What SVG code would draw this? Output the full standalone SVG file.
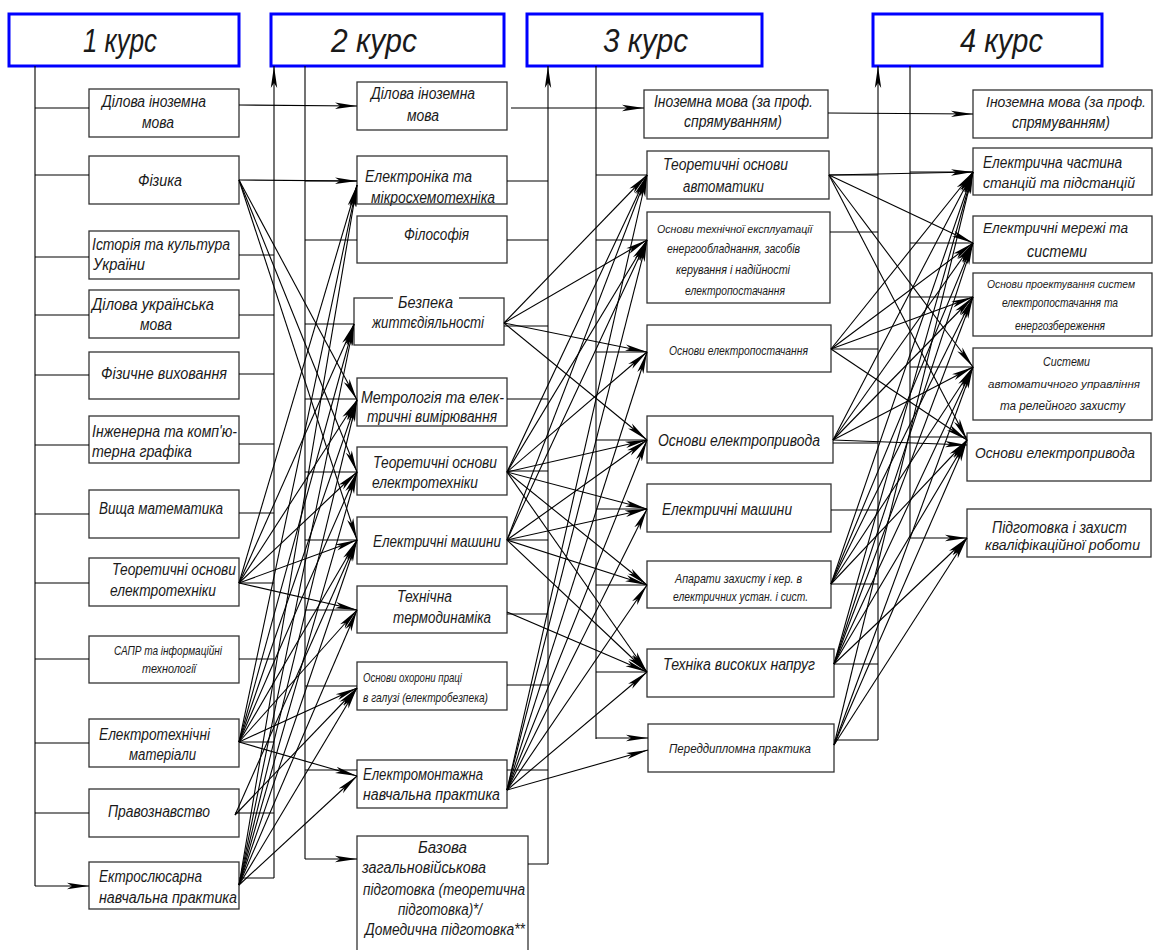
<svg xmlns="http://www.w3.org/2000/svg" width="1154" height="950" viewBox="0 0 1154 950">
<defs>
<style>
.hdr{fill:#fff;stroke:#0000ff;stroke-width:3}
.box{fill:#fff;stroke:#333;stroke-width:1.3}
.ln{fill:none;stroke:#000;stroke-width:1.1}
.ar{fill:none;stroke:#000;stroke-width:1.1;marker-end:url(#ah)}
text{font-family:"Liberation Sans",Arial,sans-serif;font-style:italic;fill:#1a1a1a}
.h{font-size:34px}
.t{font-size:16px}
.s{font-size:13px}
.u{font-size:14px}
.v{font-size:11.5px}
.e{text-anchor:end}
</style>
<marker id="ah" viewBox="0 -4 22 8" refX="22" refY="0" markerWidth="22" markerHeight="8" orient="auto" markerUnits="userSpaceOnUse">
<path d="M0,-3.2 L22,0 L0,3.2 L5,0 z" fill="#000"/>
</marker>
</defs>
<rect width="1154" height="950" fill="#fff"/>

<g id="headers">
<g id="h1"><rect class="hdr" x="9" y="14" width="230" height="52"/><text class="h" x="83" y="52" textLength="74" lengthAdjust="spacingAndGlyphs">1 курс</text></g>
<g id="h2"><rect class="hdr" x="271" y="14" width="233" height="52"/><text class="h" x="331" y="52" textLength="86" lengthAdjust="spacingAndGlyphs">2 курс</text></g>
<g id="h3"><rect class="hdr" x="527" y="14" width="235" height="52"/><text class="h" x="603" y="52" textLength="85" lengthAdjust="spacingAndGlyphs">3 курс</text></g>
<g id="h4"><rect class="hdr" x="873" y="14" width="229" height="52"/><text class="h" x="960" y="52" textLength="83" lengthAdjust="spacingAndGlyphs">4 курс</text></g>
</g>

<g id="col1">
<g id="c1n1"><rect class="box" x="89" y="89" width="150" height="48"/><text class="t" x="102" y="107" textLength="104" lengthAdjust="spacingAndGlyphs">Ділова іноземна</text><text class="t" x="142" y="128" textLength="32" lengthAdjust="spacingAndGlyphs">мова</text></g>
<g id="c1n2"><rect class="box" x="89" y="156" width="150" height="48"/><text class="t" x="138" y="186" textLength="44" lengthAdjust="spacingAndGlyphs">Фізика</text></g>
<g id="c1n3"><rect class="box" x="89" y="231" width="150" height="48"/><text class="t" x="92" y="250" textLength="138" lengthAdjust="spacingAndGlyphs">Історія та культура</text><text class="t" x="93" y="270" textLength="52" lengthAdjust="spacingAndGlyphs">України</text></g>
<g id="c1n4"><rect class="box" x="89" y="290" width="150" height="48"/><text class="t" x="92" y="310" textLength="122" lengthAdjust="spacingAndGlyphs">Ділова українська</text><text class="t" x="140" y="330" textLength="32" lengthAdjust="spacingAndGlyphs">мова</text></g>
<g id="c1n5"><rect class="box" x="89" y="352" width="150" height="47"/><text class="t" x="101" y="379" textLength="126" lengthAdjust="spacingAndGlyphs">Фізичне виховання</text></g>
<g id="c1n6"><rect class="box" x="89" y="416" width="150" height="47"/><text class="t" x="92" y="437" textLength="145" lengthAdjust="spacingAndGlyphs">Інженерна та комп'ю-</text><text class="t" x="92" y="457" textLength="100" lengthAdjust="spacingAndGlyphs">терна графіка</text></g>
<g id="c1n7"><rect class="box" x="89" y="490" width="150" height="48"/><text class="t" x="99" y="514" textLength="124" lengthAdjust="spacingAndGlyphs">Вища математика</text></g>
<g id="c1n8"><rect class="box" x="89" y="558" width="150" height="48"/><text class="t" x="112" y="575" textLength="124" lengthAdjust="spacingAndGlyphs">Теоретичні основи</text><text class="t" x="110" y="596" textLength="106" lengthAdjust="spacingAndGlyphs">електротехніки</text></g>
<g id="c1n9"><rect class="box" x="89" y="636" width="150" height="47"/><text class="s" x="114" y="655" textLength="108" lengthAdjust="spacingAndGlyphs">САПР та інформаційні</text><text class="s" x="142" y="673" textLength="54" lengthAdjust="spacingAndGlyphs">технології</text></g>
<g id="c1n10"><rect class="box" x="89" y="719" width="150" height="48"/><text class="t" x="99" y="740" textLength="111" lengthAdjust="spacingAndGlyphs">Електротехнічні</text><text class="t" x="129" y="760" textLength="67" lengthAdjust="spacingAndGlyphs">матеріали</text></g>
<g id="c1n11"><rect class="box" x="89" y="789" width="150" height="48"/><text class="t" x="108" y="817" textLength="102" lengthAdjust="spacingAndGlyphs">Правознавство</text></g>
<g id="c1n12"><rect class="box" x="89" y="862" width="150" height="47"/><text class="t" x="99" y="882" textLength="103" lengthAdjust="spacingAndGlyphs">Ектрослюсарна</text><text class="t" x="99" y="903" textLength="138" lengthAdjust="spacingAndGlyphs">навчальна практика</text></g>
</g>

<g id="col2">
<g id="c2n1"><rect class="box" x="357" y="82" width="150" height="48"/><text class="t" x="371" y="99" textLength="104" lengthAdjust="spacingAndGlyphs">Ділова іноземна</text><text class="t" x="407" y="121" textLength="32" lengthAdjust="spacingAndGlyphs">мова</text></g>
<g id="c2n2"><rect class="box" x="357" y="156" width="150" height="48"/><text class="t" x="365" y="182" textLength="107" lengthAdjust="spacingAndGlyphs">Електроніка та</text><text class="t" x="371" y="203" textLength="124" lengthAdjust="spacingAndGlyphs">мікросхемотехніка</text></g>
<g id="c2n3"><rect class="box" x="357" y="216" width="150" height="47"/><text class="t" x="404" y="240" textLength="65" lengthAdjust="spacingAndGlyphs">Філософія</text></g>
<g id="c2n4"><rect class="box" x="354" y="298" width="150" height="47"/><rect x="393" y="293" width="66" height="10" fill="#fff"/><text class="t" x="398" y="308" textLength="55" lengthAdjust="spacingAndGlyphs">Безпека</text><text class="t" x="372" y="328" textLength="112" lengthAdjust="spacingAndGlyphs">життєдіяльності</text></g>
<g id="c2n5"><rect class="box" x="357" y="378" width="150" height="48"/><text class="t" x="361" y="403" textLength="143" lengthAdjust="spacingAndGlyphs">Метрологія та елек-</text><text class="t" x="367" y="422" textLength="130" lengthAdjust="spacingAndGlyphs">тричні вимірювання</text></g>
<g id="c2n6"><rect class="box" x="357" y="447" width="150" height="48"/><text class="t" x="373" y="468" textLength="124" lengthAdjust="spacingAndGlyphs">Теоретичні основи</text><text class="t" x="372" y="488" textLength="106" lengthAdjust="spacingAndGlyphs">електротехніки</text></g>
<g id="c2n7"><rect class="box" x="357" y="517" width="150" height="47"/><text class="t" x="373" y="547" textLength="128" lengthAdjust="spacingAndGlyphs">Електричні машини</text></g>
<g id="c2n8"><rect class="box" x="357" y="586" width="150" height="47"/><text class="t" x="397" y="602" textLength="55" lengthAdjust="spacingAndGlyphs">Технічна</text><text class="t" x="393" y="623" textLength="98" lengthAdjust="spacingAndGlyphs">термодинаміка</text></g>
<g id="c2n9"><rect class="box" x="357" y="662" width="150" height="48"/><text class="s" x="363" y="682" textLength="99" lengthAdjust="spacingAndGlyphs">Основи охорони праці</text><text class="s" x="363" y="702" textLength="125" lengthAdjust="spacingAndGlyphs">в галузі (електробезпека)</text></g>
<g id="c2n10"><rect class="box" x="357" y="760" width="150" height="48"/><text class="t" x="363" y="780" textLength="120" lengthAdjust="spacingAndGlyphs">Електромонтажна</text><text class="t" x="363" y="800" textLength="137" lengthAdjust="spacingAndGlyphs">навчальна практика</text></g>
<g id="c2n11"><rect class="box" x="357" y="836" width="171" height="130"/><text class="t" x="418" y="853" textLength="49" lengthAdjust="spacingAndGlyphs">Базова</text><text class="t" x="362" y="873" textLength="124" lengthAdjust="spacingAndGlyphs">загальновійськова</text><text class="t" x="363" y="895" textLength="162" lengthAdjust="spacingAndGlyphs">підготовка (теоретична</text><text class="t" x="398" y="915" textLength="84" lengthAdjust="spacingAndGlyphs">підготовка)*/</text><text class="t" x="365" y="935" textLength="160" lengthAdjust="spacingAndGlyphs">Домедична підготовка**</text></g>
</g>

<g id="col3">
<g id="c3n1"><rect class="box" x="644" y="90" width="184" height="48"/><text class="t" x="654" y="107" textLength="159" lengthAdjust="spacingAndGlyphs">Іноземна мова (за проф.</text><text class="t" x="684" y="127" textLength="98" lengthAdjust="spacingAndGlyphs">спрямуванням)</text></g>
<g id="c3n2"><rect class="box" x="647" y="151" width="182" height="48"/><text class="t" x="663" y="170" textLength="125" lengthAdjust="spacingAndGlyphs">Теоретичні основи</text><text class="t" x="683" y="192" textLength="81" lengthAdjust="spacingAndGlyphs">автоматики</text></g>
<g id="c3n3"><rect class="box" x="647" y="212" width="183" height="91"/><text class="v" x="657" y="233" textLength="155" lengthAdjust="spacingAndGlyphs">Основи технічної експлуатації</text><text class="s" x="667" y="253" textLength="133" lengthAdjust="spacingAndGlyphs">енергообладнання, засобів</text><text class="s" x="676" y="274" textLength="114" lengthAdjust="spacingAndGlyphs">керування і надійності</text><text class="s" x="685" y="295" textLength="100" lengthAdjust="spacingAndGlyphs">електропостачання</text></g>
<g id="c3n4"><rect class="box" x="647" y="325" width="184" height="47"/><text class="s" x="669" y="355" textLength="139" lengthAdjust="spacingAndGlyphs">Основи електропостачання</text></g>
<g id="c3n5"><rect class="box" x="647" y="416" width="186" height="47"/><text class="t" x="658" y="446" textLength="162" lengthAdjust="spacingAndGlyphs">Основи електропривода</text></g>
<g id="c3n6"><rect class="box" x="647" y="484" width="184" height="48"/><text class="t" x="662" y="515" textLength="130" lengthAdjust="spacingAndGlyphs">Електричні машини</text></g>
<g id="c3n7"><rect class="box" x="647" y="561" width="184" height="47"/><text class="s" x="675" y="583" textLength="127" lengthAdjust="spacingAndGlyphs">Апарати захисту і кер. в</text><text class="s" x="673" y="601" textLength="135" lengthAdjust="spacingAndGlyphs">електричних устан. і сист.</text></g>
<g id="c3n8"><rect class="box" x="647" y="649" width="187" height="48"/><text class="t" x="663" y="670" textLength="152" lengthAdjust="spacingAndGlyphs">Техніка високих напруг</text></g>
<g id="c3n9"><rect class="box" x="648" y="724" width="186" height="48"/><text class="s" x="669" y="753" textLength="142" lengthAdjust="spacingAndGlyphs">Переддипломна практика</text></g>
</g>

<g id="col4">
<g id="c4n1"><rect class="box" x="973" y="90" width="179" height="48"/><text class="u e" x="1146" y="107" textLength="160" lengthAdjust="spacingAndGlyphs">Іноземна мова (за проф.</text><text class="t e" x="1110" y="128" textLength="98" lengthAdjust="spacingAndGlyphs">спрямуванням)</text></g>
<g id="c4n2"><rect class="box" x="973" y="148" width="179" height="47"/><text class="t e" x="1122" y="168" textLength="139" lengthAdjust="spacingAndGlyphs">Електрична частина</text><text class="u e" x="1135" y="188" textLength="152" lengthAdjust="spacingAndGlyphs">станцій та підстанцій</text></g>
<g id="c4n3"><rect class="box" x="973" y="216" width="179" height="47"/><text class="u e" x="1128" y="233" textLength="145" lengthAdjust="spacingAndGlyphs">Електричні мережі та</text><text class="t e" x="1087" y="257" textLength="60" lengthAdjust="spacingAndGlyphs">системи</text></g>
<g id="c4n4"><rect class="box" x="973" y="273" width="179" height="63"/><text class="v e" x="1135" y="288" textLength="148" lengthAdjust="spacingAndGlyphs">Основи проектування систем</text><text class="s e" x="1118" y="307" textLength="116" lengthAdjust="spacingAndGlyphs">електропостачання та</text><text class="s e" x="1105" y="330" textLength="90" lengthAdjust="spacingAndGlyphs">енергозбереження</text></g>
<g id="c4n5"><rect class="box" x="973" y="348" width="179" height="72"/><text class="s e" x="1090" y="366" textLength="47" lengthAdjust="spacingAndGlyphs">Системи</text><text class="v e" x="1140" y="388" textLength="152" lengthAdjust="spacingAndGlyphs">автоматичного управління</text><text class="s e" x="1125" y="410" textLength="125" lengthAdjust="spacingAndGlyphs">та релейного захисту</text></g>
<g id="c4n6"><rect class="box" x="967" y="433" width="184" height="48"/><text class="u e" x="1135" y="458" textLength="160" lengthAdjust="spacingAndGlyphs">Основи електропривода</text></g>
<g id="c4n7"><rect class="box" x="967" y="509" width="184" height="48"/><text class="t e" x="1127" y="533" textLength="135" lengthAdjust="spacingAndGlyphs">Підготовка і захист</text><text class="u e" x="1140" y="550" textLength="155" lengthAdjust="spacingAndGlyphs">кваліфікаційної роботи</text></g>
</g>

<g id="connectors">
<path class="ln" d="M35,66 V886 M305,66 V859 M596,66 V739 M910,66 V538"/>
<path class="ar" d="M274,878 V66"/>
<path class="ar" d="M548,864 V66"/>
<path class="ar" d="M878,740 V66"/>
<path class="ln" d="M239,255 H274 M239,315 H274 M239,374 H274 M239,444 H274 M239,513 H274 M239,583 H274 M239,659 H274 M239,742 H274 M235,813 H274 M239,878 H274"/>
<path class="ln" d="M507,181 H548 M507,240 H548 M504,326 H548 M507,399 H548 M507,471 H548 M507,540 H548 M507,614 H548 M507,685 H548 M507,770 H548 M528,864 H548"/>
<path class="ln" d="M829,175 H878 M830,232 H878 M831,349 H878 M833,443 H878 M831,510 H878 M831,584 H878 M834,664 H878 M834,740 H878"/>
<path class="ar" d="M35,108 H89 M35,175 H89 M35,257 H89 M35,315 H89 M35,375 H89 M35,445 H89 M35,514 H89 M35,583 H89 M35,659 H89 M35,743 H89 M35,813 H89 M35,886 H89"/>
<path class="ar" d="M305,181 H357 M305,240 H357 M305,324 H354 M305,399 H357 M305,472 H357 M305,540 H357 M305,610 H357 M305,686 H357 M305,770 H357 M305,859 H357"/>
<path class="ar" d="M596,175 H647 M596,240 H647 M596,352 H647 M596,440 H647 M596,509 H647 M596,585 H647 M596,672 H647 M596,738 H648"/>
<path class="ar" d="M910,172 H973 M910,243 H973 M910,297 H973 M910,367 H973 M910,437 H967 M910,538 H967"/>
<path class="ar" d="M239,105 L357,106"/>
<path class="ar" d="M511,108 L644,108"/>
<path class="ar" d="M828,113 L973,114"/>
<path class="ar" d="M239,180 L357,181"/>
<path class="ar" d="M239,180 L357,400"/>
<path class="ar" d="M239,180 L357,472"/>
<path class="ar" d="M239,180 L357,540"/>
<path class="ar" d="M239,583 L357,185"/>
<path class="ar" d="M239,583 L354,324"/>
<path class="ar" d="M239,583 L357,400"/>
<path class="ar" d="M239,583 L357,472"/>
<path class="ar" d="M239,583 L357,540"/>
<path class="ar" d="M239,583 L357,610"/>
<path class="ar" d="M239,742 L357,185"/>
<path class="ar" d="M239,742 L354,324"/>
<path class="ar" d="M239,742 L357,400"/>
<path class="ar" d="M239,742 L357,472"/>
<path class="ar" d="M239,742 L357,540"/>
<path class="ar" d="M239,742 L357,610"/>
<path class="ar" d="M239,742 L357,688"/>
<path class="ar" d="M239,742 L357,776"/>
<path class="ar" d="M235,815 L357,540"/>
<path class="ar" d="M235,815 L357,688"/>
<path class="ar" d="M239,885 L357,185"/>
<path class="ar" d="M239,885 L354,324"/>
<path class="ar" d="M239,885 L357,400"/>
<path class="ar" d="M239,885 L357,472"/>
<path class="ar" d="M239,885 L357,540"/>
<path class="ar" d="M239,885 L357,610"/>
<path class="ar" d="M239,885 L357,688"/>
<path class="ar" d="M239,885 L357,776"/>
<path class="ar" d="M504,323 L647,175"/>
<path class="ar" d="M504,323 L647,240"/>
<path class="ar" d="M504,323 L647,352"/>
<path class="ar" d="M504,323 L647,440"/>
<path class="ar" d="M507,472 L647,175"/>
<path class="ar" d="M507,472 L647,240"/>
<path class="ar" d="M507,472 L647,352"/>
<path class="ar" d="M507,472 L647,440"/>
<path class="ar" d="M507,472 L647,509"/>
<path class="ar" d="M507,472 L647,585"/>
<path class="ar" d="M507,472 L647,672"/>
<path class="ar" d="M507,540 L647,175"/>
<path class="ar" d="M507,540 L647,240"/>
<path class="ar" d="M507,540 L647,440"/>
<path class="ar" d="M507,540 L647,509"/>
<path class="ar" d="M507,540 L647,585"/>
<path class="ar" d="M507,540 L647,672"/>
<path class="ar" d="M507,612 L647,672"/>
<path class="ar" d="M507,790 L647,175"/>
<path class="ar" d="M507,790 L647,240"/>
<path class="ar" d="M507,790 L647,352"/>
<path class="ar" d="M507,790 L647,440"/>
<path class="ar" d="M507,790 L647,509"/>
<path class="ar" d="M507,790 L647,585"/>
<path class="ar" d="M507,790 L647,672"/>
<path class="ar" d="M507,790 L648,750"/>
<path class="ar" d="M829,175 L973,172"/>
<path class="ar" d="M829,175 L973,243"/>
<path class="ar" d="M829,175 L973,367"/>
<path class="ar" d="M829,175 L967,440"/>
<path class="ar" d="M831,349 L973,172"/>
<path class="ar" d="M831,349 L973,243"/>
<path class="ar" d="M831,349 L973,297"/>
<path class="ar" d="M831,349 L967,440"/>
<path class="ar" d="M833,440 L973,172"/>
<path class="ar" d="M833,440 L973,243"/>
<path class="ar" d="M833,440 L973,297"/>
<path class="ar" d="M833,440 L973,367"/>
<path class="ar" d="M833,440 L967,445"/>
<path class="ar" d="M831,584 L973,172"/>
<path class="ar" d="M831,584 L973,243"/>
<path class="ar" d="M831,584 L973,297"/>
<path class="ar" d="M831,584 L973,367"/>
<path class="ar" d="M831,584 L967,440"/>
<path class="ar" d="M834,664 L973,172"/>
<path class="ar" d="M834,664 L973,243"/>
<path class="ar" d="M834,664 L973,297"/>
<path class="ar" d="M834,664 L973,367"/>
<path class="ar" d="M834,664 L967,440"/>
<path class="ar" d="M834,664 L967,538"/>
<path class="ar" d="M834,745 L973,172"/>
<path class="ar" d="M834,745 L973,367"/>
<path class="ar" d="M834,745 L967,440"/>
<path class="ar" d="M834,745 L967,538"/>
</g>
</svg>
